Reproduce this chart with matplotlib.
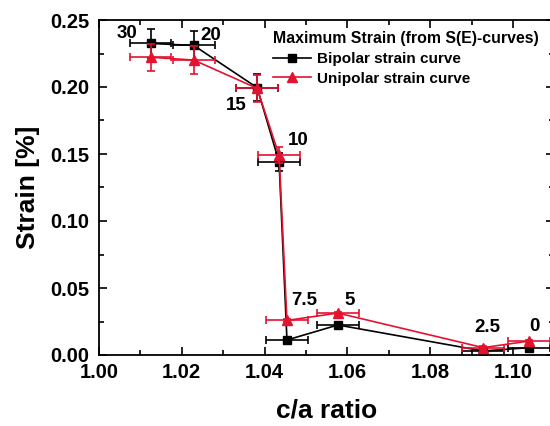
import matplotlib
matplotlib.use('Agg')
from matplotlib import pyplot as plt
from matplotlib.ticker import MultipleLocator

plt.rcParams['font.family'] = ['Liberation Sans', 'DejaVu Sans']
plt.rcParams['font.weight'] = 'bold'

# data
labels = ['30', '20', '15', '10', '7.5', '5', '2.5', '0']
ca = [1.0125, 1.0229, 1.0382, 1.0435, 1.0454, 1.0577, 1.0928, 1.1039]
ca_err = [0.005, 0.005, 0.005, 0.005, 0.005, 0.005, 0.005, 0.005]
bipolar = [0.2325, 0.2310, 0.1995, 0.1440, 0.0112, 0.0224, 0.0030, 0.0055]
bipolar_err = [0.0105, 0.011, 0.010, 0.0068, 0.001, 0.001, 0.001, 0.001]
unipolar = [0.2222, 0.2201, 0.1990, 0.1490, 0.0258, 0.0313, 0.0055, 0.0104]
unipolar_err = [0.010, 0.0105, 0.010, 0.006, 0.001, 0.001, 0.001, 0.001]

# label offsets in pixels from the black points
label_dx = [-24, 17, -21, 19, 17, 12, 4, 5]
label_dy = [10, 10, -18, 22, 39, 24, 23, 21]

red = '#e3122f'

fig = plt.figure(figsize=(5.5, 4.26), dpi=100)
ax = fig.add_axes([99 / 550, 71 / 426, 455.4 / 550, 335 / 426])

ax.errorbar(ca, bipolar, xerr=ca_err, yerr=bipolar_err, fmt='none',
            ecolor='black', elinewidth=1.2, capsize=3, capthick=1.2, zorder=2)
ax.plot(ca, bipolar, color='black', lw=1.2, marker='s', ms=5.5,
        label='Bipolar strain curve', zorder=3)
ax.errorbar(ca, unipolar, xerr=ca_err, yerr=unipolar_err, fmt='none',
            ecolor=red, elinewidth=1.2, capsize=3, capthick=1.2, zorder=4)
ax.plot(ca, unipolar, color=red, lw=1.2, marker='^', ms=6.5,
        label='Unipolar strain curve', zorder=5)

for i, lab in enumerate(labels):
    ax.annotate(lab, (ca[i], bipolar[i]), xytext=(label_dx[i], label_dy[i]),
                textcoords='offset pixels', ha='center', va='center',
                fontsize=13.5, fontweight='bold')

ax.set_xlim(1.00, 1.11)
ax.set_ylim(0.0, 0.25)
ax.xaxis.set_minor_locator(MultipleLocator(0.01))
ax.yaxis.set_minor_locator(MultipleLocator(0.025))
ax.set_xticks([1.00, 1.02, 1.04, 1.06, 1.08, 1.10])
ax.set_xticklabels(['1.00', '1.02', '1.04', '1.06', '1.08', '1.10'])
ax.set_yticks([0.0, 0.05, 0.10, 0.15, 0.20, 0.25])
ax.set_yticklabels(['0.00', '0.05', '0.10', '0.15', '0.20', '0.25'])
ax.tick_params(which='both', direction='in', top=True, right=True,
               width=1.2, labelsize=14.5)
ax.tick_params(which='major', length=6)
ax.tick_params(which='minor', length=3.5)
ax.tick_params(axis='y', which='major', pad=7)
ax.tick_params(axis='x', which='major', pad=6)
for lbl in ax.get_xticklabels() + ax.get_yticklabels():
    lbl.set_fontweight('bold')
for sp in ax.spines.values():
    sp.set_linewidth(1.3)

ax.set_xlabel('c/a ratio', fontsize=19, fontweight='bold', labelpad=12)
ax.set_ylabel('Strain [%]', fontsize=19, fontweight='bold', labelpad=7)

leg = ax.legend(title='Maximum Strain (from S(E)-curves)', frameon=False,
                loc='upper left', bbox_to_anchor=(0.382, 0.967),
                fontsize=11, title_fontproperties={'weight': 'bold', 'size': 11.4},
                handlelength=2.5, handletextpad=0.4, labelspacing=0.38,
                alignment='left', borderaxespad=0, borderpad=0)
for t in leg.get_texts():
    t.set_fontweight('bold')

fig.savefig('out.png', dpi=100)
